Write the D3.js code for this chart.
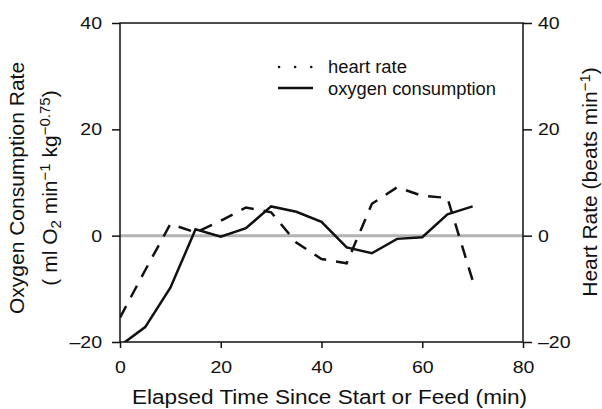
<!DOCTYPE html>
<html>
<head>
<meta charset="utf-8">
<script src="https://cdn.jsdelivr.net/npm/d3@7/dist/d3.min.js"></script>
<style>
  html, body { margin: 0; padding: 0; background: #fff; }
  svg { display: block; }
  text { font-family: "Liberation Sans", Arial, Helvetica, sans-serif; fill: #111; }
</style>
</head>
<body>
<svg id="chart" width="602" height="409"></svg>
<script>
// ---- data ----
const time = [0, 5, 10, 15, 20, 25, 30, 35, 40, 45, 50, 55, 60, 65, 70];
const oxygenConsumption = [-20.7, -17.2, -9.8, 1.2, -0.2, 1.4, 5.5, 4.5, 2.6, -2.2, -3.3, -0.6, -0.3, 4.0, 5.5];
const heartRate = [-15.4, -6.5, 2.2, 0.6, 2.8, 5.3, 4.4, -1.3, -4.4, -5.2, 6.0, 9.1, 7.5, 7.1, -8.4];
const xTicks = [0, 20, 40, 60, 80];
const yTicks = [-20, 0, 20, 40];
const legendLabels = ["heart rate", "oxygen consumption"];

const W = 602, H = 409;
const m = { left: 120, right: 79, top: 23, bottom: 67 };
const svg = d3.select("#chart");

const x = d3.scaleLinear().domain([0, 80]).range([m.left, W - m.right]);
const y = d3.scaleLinear().domain([-20, 40]).range([H - m.bottom, m.top]);
const yR = d3.scaleLinear().domain([-20, 40]).range([H - m.bottom, m.top]);

const fmt = d => d < 0 ? "\u2013" + Math.abs(d) : String(d);
const SX = 1.15; // horizontal stretch of the reference's lettering

svg.append("defs").append("clipPath").attr("id", "clip")
  .append("rect").attr("x", m.left).attr("y", m.top)
  .attr("width", x(80) - x(0)).attr("height", y(-20) - y(40));

// zero line
svg.append("line")
  .attr("x1", x(0)).attr("x2", x(80)).attr("y1", y(0)).attr("y2", y(0))
  .attr("stroke", "#b3b3b3").attr("stroke-width", 3);

// lines
const rows = time.map((t, i) => ({ t, o: oxygenConsumption[i], h: heartRate[i] }));
const g = svg.append("g").attr("clip-path", "url(#clip)");
g.append("path").datum(rows)
  .attr("d", d3.line().x(d => x(d.t)).y(d => yR(d.h)))
  .attr("fill", "none").attr("stroke", "#111").attr("stroke-width", 2.5)
  .attr("stroke-dasharray", "13,10");
g.append("path").datum(rows)
  .attr("d", d3.line().x(d => x(d.t)).y(d => y(d.o)))
  .attr("fill", "none").attr("stroke", "#111").attr("stroke-width", 2.5);

// axes
const fs = "17px";
const ax = svg.append("g").attr("transform", `translate(0,${y(-20)})`)
  .call(d3.axisBottom(x).tickValues(xTicks).tickSize(6).tickPadding(13).tickFormat(fmt));
const ayl = svg.append("g").attr("transform", `translate(${m.left},0)`)
  .call(d3.axisLeft(y).tickValues(yTicks).tickSize(8).tickPadding(10).tickFormat(fmt));
const ayr = svg.append("g").attr("transform", `translate(${x(80)},0)`)
  .call(d3.axisRight(yR).tickValues(yTicks).tickSize(9).tickPadding(6).tickFormat(fmt));
[ax, ayl, ayr].forEach(a => {
  a.select(".domain").remove();
  a.selectAll(".tick line").attr("stroke", "#111").attr("stroke-width", 1.5);
  a.selectAll(".tick text").style("font-size", fs).attr("fill", "#111")
    .style("font-family", '"Liberation Sans", Arial, sans-serif')
    .attr("x", function() { return (+d3.select(this).attr("x") || 0) / SX; })
    .attr("transform", `scale(${SX},1)`);
});

// frame
svg.append("rect")
  .attr("x", x(0)).attr("y", y(40)).attr("width", x(80) - x(0)).attr("height", y(-20) - y(40))
  .attr("fill", "none").attr("stroke", "#111").attr("stroke-width", 1.5);

// x title
svg.append("text").attr("x", 132).attr("y", 404)
  .attr("textLength", 395).attr("lengthAdjust", "spacingAndGlyphs")
  .style("font-size", "20px").text("Elapsed Time Since Start or Feed (min)");

// left title
const cyL = 188, cyR = 182;
svg.append("text").attr("transform", `translate(24,${cyL}) rotate(-90)`)
  .attr("text-anchor", "middle").style("font-size", "21px").text("Oxygen Consumption Rate");
const t2 = svg.append("text").attr("transform", `translate(57,${cyL}) rotate(-90)`)
  .attr("text-anchor", "middle").style("font-size", "21px");
t2.append("tspan").text("( ml O");
t2.append("tspan").attr("baseline-shift", "-25%").style("font-size", "15px").text("2");
t2.append("tspan").text(" min");
t2.append("tspan").attr("baseline-shift", "45%").style("font-size", "15px").text("\u22121");
t2.append("tspan").text(" kg");
t2.append("tspan").attr("baseline-shift", "45%").style("font-size", "15px").text("\u22120.75");
t2.append("tspan").text(")");

// right title
const t3 = svg.append("text").attr("transform", `translate(597,${cyR}) rotate(-90)`)
  .attr("text-anchor", "middle").style("font-size", "21px");
t3.append("tspan").text("Heart Rate (beats min");
t3.append("tspan").attr("baseline-shift", "45%").style("font-size", "15px").text("\u22121");
t3.append("tspan").text(")");

// legend
const lg = svg.append("g");
lg.append("line").attr("x1", 279).attr("x2", 313).attr("y1", 67).attr("y2", 67)
  .attr("stroke", "#111").attr("stroke-width", 2.5).attr("stroke-linecap", "round")
  .attr("stroke-dasharray", "0.1,16");
lg.append("line").attr("x1", 278).attr("x2", 313).attr("y1", 88).attr("y2", 88)
  .attr("stroke", "#111").attr("stroke-width", 2.5);
const lgLen = [79, 168];
lg.selectAll("text.lg").data(legendLabels).enter().append("text").attr("class", "lg")
  .attr("x", 328).attr("y", (d, i) => 73 + i * 22)
  .attr("textLength", (d, i) => lgLen[i]).attr("lengthAdjust", "spacingAndGlyphs")
  .style("font-size", "17.5px").text(d => d);
</script>
</body>
</html>
